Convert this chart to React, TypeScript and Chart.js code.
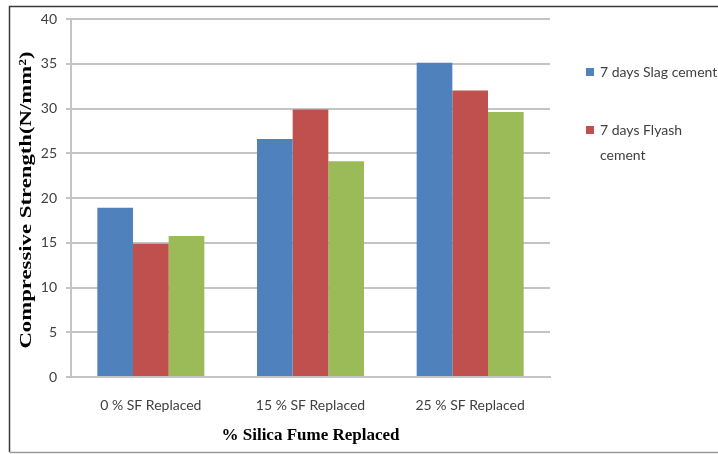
import React, { useEffect, useRef } from "react";
import { Chart, registerables } from "chart.js";

Chart.register(...registerables);

const categories = ["0 % SF Replaced", "15 % SF Replaced", "25 % SF Replaced"];
const slagCement = [18.9, 26.6, 35.1];
const flyashCement = [14.9, 29.9, 32.0];
const thirdMix = [15.75, 24.1, 29.6];
const seriesNames = ["7 days Slag cement", "7 days Flyash cement", "7 days OPC cement"];
const legendLines = [["7 days Slag cement"], ["7 days Flyash", "cement"]];
const yTitle = "Compressive Strength(N/mm²)";
const xTitle = "% Silica Fume Replaced";
const colors = ["#4F81BD", "#C0504D", "#9BBB59"];

const tickFont = "Lato, 'Open Sans', sans-serif";
const titleFont = "'Liberation Serif', 'Times New Roman', serif";

// Outer frame around the figure
const framePlugin = {
  id: "frame",
  beforeDraw(chart: any) {
    const ctx = chart.ctx;
    ctx.save();
    ctx.fillStyle = "#ffffff";
    ctx.fillRect(0, 0, chart.width, chart.height);
    ctx.lineWidth = 1.5;
    ctx.strokeStyle = "#3a3a3a";
    ctx.beginPath();
    ctx.moveTo(9.5, 452);
    ctx.lineTo(9.5, 6.5);
    ctx.lineTo(chart.width, 6.5);
    ctx.stroke();
    ctx.strokeStyle = "#9a9a9a";
    ctx.beginPath();
    ctx.moveTo(9.5, 452.5);
    ctx.lineTo(chart.width, 452.5);
    ctx.stroke();
    ctx.restore();
  },
};

// Rotated y-axis title, stretched along its length to span the axis
const yTitlePlugin = {
  id: "yTitle",
  afterDraw(chart: any) {
    const ctx = chart.ctx;
    const area = chart.chartArea;
    ctx.save();
    ctx.font = `bold 17px ${titleFont}`;
    ctx.fillStyle = "#000";
    ctx.textAlign = "center";
    ctx.textBaseline = "middle";
    const w = ctx.measureText(yTitle).width;
    const span = (area.bottom - area.top) * 0.83;
    ctx.translate(27, (area.top + area.bottom) / 2 + 2);
    ctx.rotate(-Math.PI / 2);
    ctx.scale(span / w, 1);
    ctx.fillText(yTitle, 0, 0);
    ctx.restore();
  },
};

// Legend on the right with wrapped labels
const sideLegendPlugin = {
  id: "sideLegend",
  afterDraw(chart: any) {
    const ctx = chart.ctx;
    const area = chart.chartArea;
    const x0 = area.right + 36;
    const rows = [area.top + 53, area.top + 111];
    ctx.save();
    ctx.font = `14px ${tickFont}`;
    ctx.textBaseline = "middle";
    ctx.textAlign = "left";
    legendLines.forEach((lines, i) => {
      const y = rows[i];
      ctx.fillStyle = chart.data.datasets[i].backgroundColor;
      ctx.fillRect(x0, y - 4, 8, 8);
      ctx.fillStyle = "#404040";
      lines.forEach((t, j) => ctx.fillText(t, x0 + 14, y + j * 25));
    });
    ctx.restore();
  },
};

export default function App() {
  const ref = useRef<HTMLCanvasElement>(null);

  useEffect(() => {
    document.body.style.margin = "0";
    const chart = new Chart(ref.current as HTMLCanvasElement, {
      type: "bar",
      data: {
        labels: categories,
        datasets: [slagCement, flyashCement, thirdMix].map((d, i) => ({
          label: seriesNames[i],
          data: d,
          backgroundColor: colors[i],
          borderWidth: 0,
          categoryPercentage: 0.67,
          barPercentage: 1,
        })),
      },
      options: {
        animation: false,
        responsive: false,
        devicePixelRatio: 1,
        layout: { padding: { left: 0, top: 19, right: 168, bottom: 0 } },
        plugins: { legend: { display: false }, tooltip: { enabled: false } },
        scales: {
          x: {
            grid: { display: false },
            border: { display: true, color: "#c4c4c4", width: 2 },
            ticks: { color: "#404040", font: { family: tickFont, size: 14 }, padding: 12 },
            title: {
              display: true,
              text: xTitle,
              color: "#000",
              font: { family: titleFont, size: 17, weight: "bold" },
              padding: { top: 0, bottom: 8 },
            },
            afterFit(s: any) {
              s.height = 77;
            },
          },
          y: {
            min: 0,
            max: 40,
            ticks: { stepSize: 5, color: "#404040", font: { family: tickFont, size: 14 }, padding: 9 },
            grid: { color: "#c4c4c4", lineWidth: 2, tickLength: 5 },
            border: { display: true, color: "#c4c4c4", width: 2 },
            afterFit(s: any) {
              s.width = 71;
            },
          },
        },
      },
      plugins: [framePlugin, yTitlePlugin, sideLegendPlugin],
    } as any);
    return () => chart.destroy();
  }, []);

  return <canvas ref={ref} width={718} height={454} style={{ display: "block" }} />;
}
